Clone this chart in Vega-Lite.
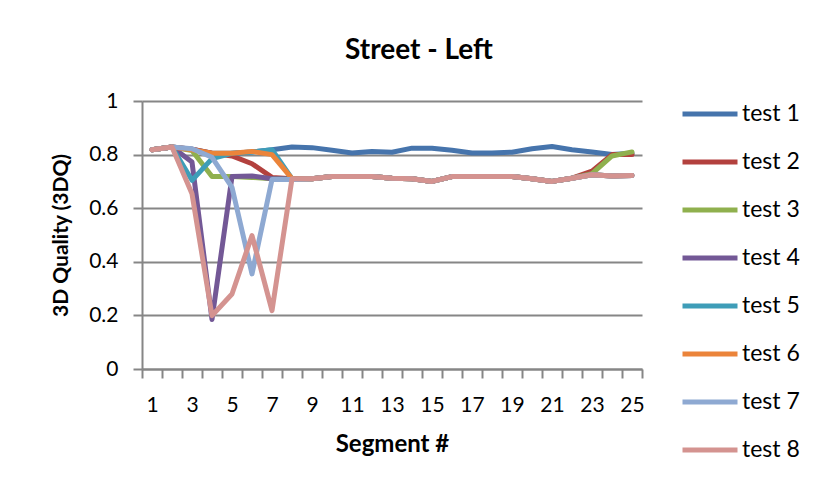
{
  "$schema": "https://vega.github.io/schema/vega-lite/v6.json",
  "width": 500,
  "height": 268,
  "autosize": "none",
  "padding": {"left": 142, "top": 101, "right": 177, "bottom": 116},
  "background": "white",
  "title": {"text": "Street - Left", "font": "Lato", "fontSize": 28, "fontWeight": "bold", "color": "#000", "anchor": "middle", "dx": 27, "offset": 19},
  "config": {
    "view": {"stroke": null},
    "font": "Lato"
  },
  "datasets": {
    "d": [
      {"seg":1,"s":"test 1","v":0.818},{"seg":2,"s":"test 1","v":0.828},{"seg":3,"s":"test 1","v":0.82},{"seg":4,"s":"test 1","v":0.805},{"seg":5,"s":"test 1","v":0.805},{"seg":6,"s":"test 1","v":0.81},{"seg":7,"s":"test 1","v":0.818},{"seg":8,"s":"test 1","v":0.828},{"seg":9,"s":"test 1","v":0.826},{"seg":10,"s":"test 1","v":0.816},{"seg":11,"s":"test 1","v":0.806},{"seg":12,"s":"test 1","v":0.812},{"seg":13,"s":"test 1","v":0.809},{"seg":14,"s":"test 1","v":0.824},{"seg":15,"s":"test 1","v":0.824},{"seg":16,"s":"test 1","v":0.816},{"seg":17,"s":"test 1","v":0.806},{"seg":18,"s":"test 1","v":0.806},{"seg":19,"s":"test 1","v":0.809},{"seg":20,"s":"test 1","v":0.822},{"seg":21,"s":"test 1","v":0.83},{"seg":22,"s":"test 1","v":0.818},{"seg":23,"s":"test 1","v":0.81},{"seg":24,"s":"test 1","v":0.8},{"seg":25,"s":"test 1","v":0.805},

      {"seg":1,"s":"test 2","v":0.818},{"seg":2,"s":"test 2","v":0.828},{"seg":3,"s":"test 2","v":0.82},{"seg":4,"s":"test 2","v":0.805},{"seg":5,"s":"test 2","v":0.795},{"seg":6,"s":"test 2","v":0.766},{"seg":7,"s":"test 2","v":0.715},{"seg":8,"s":"test 2","v":0.71},{"seg":9,"s":"test 2","v":0.71},{"seg":10,"s":"test 2","v":0.718},{"seg":11,"s":"test 2","v":0.718},{"seg":12,"s":"test 2","v":0.718},{"seg":13,"s":"test 2","v":0.712},{"seg":14,"s":"test 2","v":0.71},{"seg":15,"s":"test 2","v":0.7},{"seg":16,"s":"test 2","v":0.718},{"seg":17,"s":"test 2","v":0.718},{"seg":18,"s":"test 2","v":0.718},{"seg":19,"s":"test 2","v":0.718},{"seg":20,"s":"test 2","v":0.71},{"seg":21,"s":"test 2","v":0.7},{"seg":22,"s":"test 2","v":0.712},{"seg":23,"s":"test 2","v":0.738},{"seg":24,"s":"test 2","v":0.8},{"seg":25,"s":"test 2","v":0.8},

      {"seg":1,"s":"test 3","v":0.818},{"seg":2,"s":"test 3","v":0.828},{"seg":3,"s":"test 3","v":0.815},{"seg":4,"s":"test 3","v":0.718},{"seg":5,"s":"test 3","v":0.718},{"seg":6,"s":"test 3","v":0.715},{"seg":7,"s":"test 3","v":0.71},{"seg":8,"s":"test 3","v":0.71},{"seg":9,"s":"test 3","v":0.71},{"seg":10,"s":"test 3","v":0.718},{"seg":11,"s":"test 3","v":0.718},{"seg":12,"s":"test 3","v":0.718},{"seg":13,"s":"test 3","v":0.712},{"seg":14,"s":"test 3","v":0.71},{"seg":15,"s":"test 3","v":0.7},{"seg":16,"s":"test 3","v":0.718},{"seg":17,"s":"test 3","v":0.718},{"seg":18,"s":"test 3","v":0.718},{"seg":19,"s":"test 3","v":0.718},{"seg":20,"s":"test 3","v":0.71},{"seg":21,"s":"test 3","v":0.7},{"seg":22,"s":"test 3","v":0.712},{"seg":23,"s":"test 3","v":0.729},{"seg":24,"s":"test 3","v":0.795},{"seg":25,"s":"test 3","v":0.81},

      {"seg":1,"s":"test 4","v":0.818},{"seg":2,"s":"test 4","v":0.828},{"seg":3,"s":"test 4","v":0.772},{"seg":4,"s":"test 4","v":0.185},{"seg":5,"s":"test 4","v":0.718},{"seg":6,"s":"test 4","v":0.72},{"seg":7,"s":"test 4","v":0.71},{"seg":8,"s":"test 4","v":0.71},{"seg":9,"s":"test 4","v":0.71},{"seg":10,"s":"test 4","v":0.718},{"seg":11,"s":"test 4","v":0.718},{"seg":12,"s":"test 4","v":0.718},{"seg":13,"s":"test 4","v":0.712},{"seg":14,"s":"test 4","v":0.71},{"seg":15,"s":"test 4","v":0.7},{"seg":16,"s":"test 4","v":0.718},{"seg":17,"s":"test 4","v":0.718},{"seg":18,"s":"test 4","v":0.718},{"seg":19,"s":"test 4","v":0.718},{"seg":20,"s":"test 4","v":0.71},{"seg":21,"s":"test 4","v":0.7},{"seg":22,"s":"test 4","v":0.712},{"seg":23,"s":"test 4","v":0.725},{"seg":24,"s":"test 4","v":0.72},{"seg":25,"s":"test 4","v":0.722},

      {"seg":1,"s":"test 5","v":0.818},{"seg":2,"s":"test 5","v":0.828},{"seg":3,"s":"test 5","v":0.704},{"seg":4,"s":"test 5","v":0.785},{"seg":5,"s":"test 5","v":0.805},{"seg":6,"s":"test 5","v":0.81},{"seg":7,"s":"test 5","v":0.818},{"seg":8,"s":"test 5","v":0.71},{"seg":9,"s":"test 5","v":0.71},{"seg":10,"s":"test 5","v":0.718},{"seg":11,"s":"test 5","v":0.718},{"seg":12,"s":"test 5","v":0.718},{"seg":13,"s":"test 5","v":0.712},{"seg":14,"s":"test 5","v":0.71},{"seg":15,"s":"test 5","v":0.7},{"seg":16,"s":"test 5","v":0.718},{"seg":17,"s":"test 5","v":0.718},{"seg":18,"s":"test 5","v":0.718},{"seg":19,"s":"test 5","v":0.718},{"seg":20,"s":"test 5","v":0.71},{"seg":21,"s":"test 5","v":0.7},{"seg":22,"s":"test 5","v":0.712},{"seg":23,"s":"test 5","v":0.725},{"seg":24,"s":"test 5","v":0.72},{"seg":25,"s":"test 5","v":0.722},

      {"seg":1,"s":"test 6","v":0.818},{"seg":2,"s":"test 6","v":0.828},{"seg":3,"s":"test 6","v":0.818},{"seg":4,"s":"test 6","v":0.805},{"seg":5,"s":"test 6","v":0.805},{"seg":6,"s":"test 6","v":0.812},{"seg":7,"s":"test 6","v":0.8},{"seg":8,"s":"test 6","v":0.71},{"seg":9,"s":"test 6","v":0.71},{"seg":10,"s":"test 6","v":0.718},{"seg":11,"s":"test 6","v":0.718},{"seg":12,"s":"test 6","v":0.718},{"seg":13,"s":"test 6","v":0.712},{"seg":14,"s":"test 6","v":0.71},{"seg":15,"s":"test 6","v":0.7},{"seg":16,"s":"test 6","v":0.718},{"seg":17,"s":"test 6","v":0.718},{"seg":18,"s":"test 6","v":0.718},{"seg":19,"s":"test 6","v":0.718},{"seg":20,"s":"test 6","v":0.71},{"seg":21,"s":"test 6","v":0.7},{"seg":22,"s":"test 6","v":0.712},{"seg":23,"s":"test 6","v":0.725},{"seg":24,"s":"test 6","v":0.72},{"seg":25,"s":"test 6","v":0.722},

      {"seg":1,"s":"test 7","v":0.818},{"seg":2,"s":"test 7","v":0.828},{"seg":3,"s":"test 7","v":0.822},{"seg":4,"s":"test 7","v":0.79},{"seg":5,"s":"test 7","v":0.678},{"seg":6,"s":"test 7","v":0.355},{"seg":7,"s":"test 7","v":0.707},{"seg":8,"s":"test 7","v":0.707},{"seg":9,"s":"test 7","v":0.71},{"seg":10,"s":"test 7","v":0.718},{"seg":11,"s":"test 7","v":0.718},{"seg":12,"s":"test 7","v":0.718},{"seg":13,"s":"test 7","v":0.712},{"seg":14,"s":"test 7","v":0.71},{"seg":15,"s":"test 7","v":0.7},{"seg":16,"s":"test 7","v":0.718},{"seg":17,"s":"test 7","v":0.718},{"seg":18,"s":"test 7","v":0.718},{"seg":19,"s":"test 7","v":0.718},{"seg":20,"s":"test 7","v":0.71},{"seg":21,"s":"test 7","v":0.7},{"seg":22,"s":"test 7","v":0.712},{"seg":23,"s":"test 7","v":0.725},{"seg":24,"s":"test 7","v":0.72},{"seg":25,"s":"test 7","v":0.722},

      {"seg":1,"s":"test 8","v":0.818},{"seg":2,"s":"test 8","v":0.828},{"seg":3,"s":"test 8","v":0.654},{"seg":4,"s":"test 8","v":0.199},{"seg":5,"s":"test 8","v":0.28},{"seg":6,"s":"test 8","v":0.498},{"seg":7,"s":"test 8","v":0.218},{"seg":8,"s":"test 8","v":0.71},{"seg":9,"s":"test 8","v":0.71},{"seg":10,"s":"test 8","v":0.718},{"seg":11,"s":"test 8","v":0.718},{"seg":12,"s":"test 8","v":0.718},{"seg":13,"s":"test 8","v":0.712},{"seg":14,"s":"test 8","v":0.71},{"seg":15,"s":"test 8","v":0.7},{"seg":16,"s":"test 8","v":0.718},{"seg":17,"s":"test 8","v":0.718},{"seg":18,"s":"test 8","v":0.718},{"seg":19,"s":"test 8","v":0.718},{"seg":20,"s":"test 8","v":0.71},{"seg":21,"s":"test 8","v":0.7},{"seg":22,"s":"test 8","v":0.712},{"seg":23,"s":"test 8","v":0.725},{"seg":24,"s":"test 8","v":0.72},{"seg":25,"s":"test 8","v":0.722}
    ]
  },
  "data": {"name": "d"},
  "mark": {"type": "line", "strokeWidth": 5, "strokeJoin": "round", "strokeCap": "round"},
  "encoding": {
    "x": {
      "field": "seg", "type": "ordinal", "sort": "ascending",
      "scale": {"type": "band", "paddingInner": 0, "paddingOuter": 0},
      "axis": {
        "title": "Segment #", "titleFont": "Lato", "titleFontSize": 24, "titleFontWeight": "bold", "titleColor": "#000", "titlePadding": 17,
        "labelAngle": 0, "labelFont": "Lato", "labelFontSize": 21, "labelColor": "#000", "labelPadding": 16,
        "labelExpr": "datum.value % 2 == 1 ? datum.label : ''",
        "tickBand": "extent", "tickSize": 9, "tickColor": "#868686", "tickWidth": 2,
        "domainColor": "#868686", "domainWidth": 2, "grid": false
      }
    },
    "y": {
      "field": "v", "type": "quantitative",
      "scale": {"domain": [0, 1], "nice": false, "zero": true},
      "axis": {
        "title": "3D Quality (3DQ)", "titleFont": "Lato", "titleFontSize": 21, "titleFontWeight": "bold", "titleColor": "#000", "titlePadding": 17,
        "values": [0, 0.2, 0.4, 0.6, 0.8, 1], "format": "~g",
        "labelFont": "Lato", "labelFontSize": 21, "labelColor": "#000", "labelPadding": 15,
        "tickSize": 9, "tickColor": "#868686", "tickWidth": 2,
        "domainColor": "#868686", "domainWidth": 2,
        "grid": true, "gridColor": "#868686", "gridWidth": 2
      }
    },
    "color": {
      "field": "s", "type": "nominal",
      "scale": {
        "domain": ["test 1", "test 2", "test 3", "test 4", "test 5", "test 6", "test 7", "test 8"],
        "range": ["#4674AC", "#B3413E", "#8FB04E", "#735896", "#3E9DB8", "#EB843A", "#8EA9D2", "#D49390"]
      },
      "legend": {
        "title": null, "orient": "none", "legendX": 538, "legendY": -17, "padding": 0,
        "symbolType": "stroke", "symbolSize": 3025, "symbolStrokeWidth": 5,
        "labelFont": "Lato", "labelFontSize": 23, "labelColor": "#000", "labelOffset": 2,
        "rowPadding": 6
      }
    }
  }
}
